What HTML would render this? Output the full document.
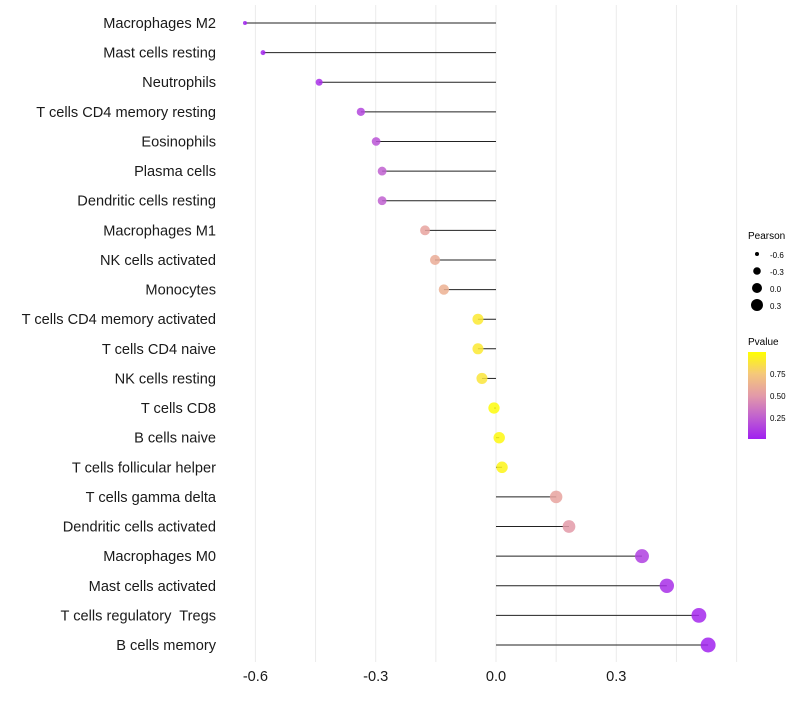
<!DOCTYPE html>
<html><head><meta charset="utf-8"><style>
body{margin:0;background:#fff;font-family:"Liberation Sans",sans-serif}
svg text{font-family:"Liberation Sans",sans-serif;white-space:pre}
</style></head><body>
<svg id="chart" width="800" height="700">
<defs><linearGradient id="pg" x1="0" y1="1" x2="0" y2="0">
<stop offset="0" stop-color="#a020f0"/><stop offset="0.25" stop-color="#c060d0"/><stop offset="0.5" stop-color="#e39aa8"/><stop offset="0.75" stop-color="#f5c87a"/><stop offset="1" stop-color="#ffff00"/></linearGradient></defs>
<g id="grid"></g><g id="marks"></g><g id="ylab"></g><g id="xlab"></g>
<g>
<text x="748" y="239" font-size="10">Pearson</text>
<circle cx="757" cy="254" r="2" fill="#000"/><text x="770" y="258" font-size="8">-0.6</text>
<circle cx="757" cy="271" r="3.8" fill="#000"/><text x="770" y="275" font-size="8">-0.3</text>
<circle cx="757" cy="288" r="5" fill="#000"/><text x="770" y="292" font-size="8">0.0</text>
<circle cx="757" cy="305" r="6" fill="#000"/><text x="770" y="309" font-size="8">0.3</text>
</g>
<g>
<text x="748" y="345" font-size="10">Pvalue</text>
<rect x="748" y="352" width="18" height="87" fill="url(#pg)"/>
<text x="770" y="377" font-size="8">0.75</text>
<text x="770" y="399" font-size="8">0.50</text>
<text x="770" y="421" font-size="8">0.25</text>
</g>
</svg>
<script>
const categories=["Macrophages M2","Mast cells resting","Neutrophils","T cells CD4 memory resting","Eosinophils","Plasma cells","Dendritic cells resting","Macrophages M1","NK cells activated","Monocytes","T cells CD4 memory activated","T cells CD4 naive","NK cells resting","T cells CD8","B cells naive","T cells follicular helper","T cells gamma delta","Dendritic cells activated","Macrophages M0","Mast cells activated","T cells regulatory  Tregs","B cells memory"];
const pearson=[-0.626,-0.581,-0.441,-0.337,-0.299,-0.284,-0.284,-0.177,-0.152,-0.130,-0.045,-0.045,-0.035,-0.005,0.008,0.015,0.150,0.182,0.364,0.426,0.506,0.529];
const pvalue=[0.01,0.02,0.06,0.15,0.2,0.25,0.25,0.55,0.6,0.62,0.9,0.9,0.88,0.98,0.97,0.95,0.55,0.5,0.12,0.06,0.03,0.01];
const xTicks=[-0.6,-0.3,0.0,0.3];
const xTickLabels=["-0.6","-0.3","0.0","0.3"];
const NS="http://www.w3.org/2000/svg";
const X=v=>496+v*401;
const Y=i=>23+i*(645-23)/(categories.length-1);
const R=v=>Math.sqrt(4+45.2*(v+0.626));
const stops=[[0,[160,32,240]],[0.25,[192,96,208]],[0.5,[227,154,168]],[0.75,[245,200,122]],[1,[255,255,0]]];
function col(p){for(let k=1;k<stops.length;k++){if(p<=stops[k][0]){const a=stops[k-1],b=stops[k],t=(p-a[0])/(b[0]-a[0]);return "rgb("+a[1].map((c,j)=>Math.round(c+(b[1][j]-c)*t)).join(",")+")";}}return "rgb(255,255,0)";}
function mk(tag,attrs,parent){const e=document.createElementNS(NS,tag);for(const k in attrs)e.setAttribute(k,attrs[k]);document.getElementById(parent).appendChild(e);return e;}
for(let v=-0.6;v<=0.61;v+=0.15){const g=mk("line",{x1:X(v),x2:X(v),y1:5,y2:662,stroke:"#ebebeb","stroke-width":1},"grid");

}
categories.forEach((c,i)=>{
const l=mk("line",{x1:X(0),x2:X(pearson[i]),y1:Y(i),y2:Y(i),stroke:"#222","stroke-width":1},"marks");


const p=mk("circle",{cx:X(pearson[i]),cy:Y(i),r:R(pearson[i]),fill:col(pvalue[i]),"fill-opacity":0.85},"marks");


const t=mk("text",{x:216,y:Y(i)+5,"text-anchor":"end","font-size":14.6,fill:"#1a1a1a"},"ylab");t.textContent=c;


});
xTicks.forEach((v,i)=>{const t=mk("text",{x:X(v),y:681,"text-anchor":"middle","font-size":14.6,fill:"#1a1a1a"},"xlab");t.textContent=xTickLabels[i];

});
</script>
</body></html>
